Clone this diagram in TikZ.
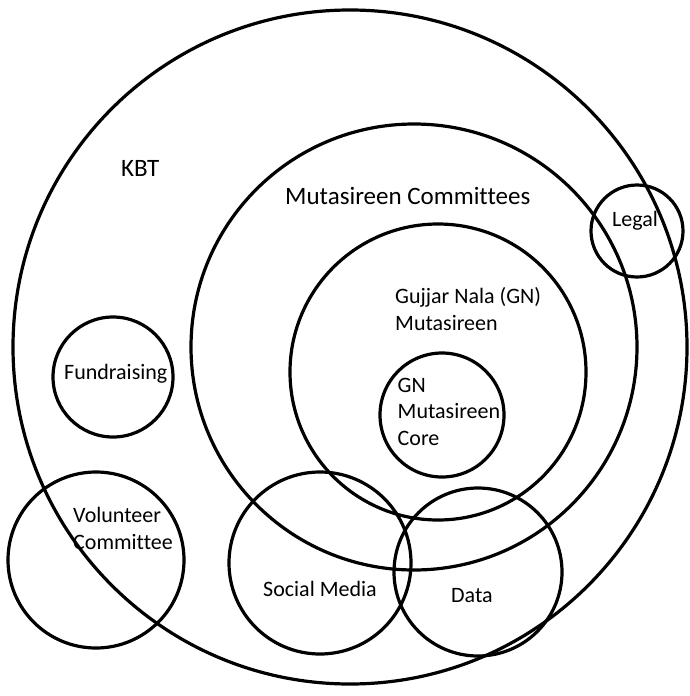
\documentclass[tikz,border=0pt]{standalone}
\usepackage{fontspec}
\setmainfont{Carlito}[Ligatures=NoCommon]

\begin{document}
\begin{tikzpicture}[x=1pt,y=-1pt,
    ring/.style={shape=circle,draw=black,line width=3.2pt,inner sep=0pt},
    lbl/.style={inner sep=0pt,anchor=base west,align=left,font=\fontsize{22}{26.5}\selectfont},
    biglbl/.style={inner sep=0pt,anchor=base west,font=\fontsize{25}{30}\selectfont}]
                \useasboundingbox (0,0) rectangle (689,696);
                % circles
                \node[ring,minimum size=674pt](kbt)at(350, 347){};
                \node[ring,minimum size=446pt](mc)at(414, 347){};
                \node[ring,minimum size=296pt](gn)at(438, 372){};
                \node[ring,minimum size=124pt](core)at(442, 415){};
                \node[ring,minimum size=92pt](legal)at(637, 231){};
                \node[ring,minimum size=120pt](fund)at(113, 377){};
                \node[ring,minimum size=176pt](vol)at(96, 560){};
                \node[ring,minimum size=182pt](social)at(320, 563){};
                \node[ring,minimum size=168pt](data)at(478, 572){};
                % labels (base = last line)
                \node[biglbl](kbtText)at(121, 176){KBT};
                \node[biglbl](mcText)at(285, 204){Mutasireen Committees};
                \node[lbl](legalText)at(612, 226){Legal};
                \node[lbl](gnText)at(395, 330){Gujjar Nala (GN)\\Mutasireen};
                \node[lbl](coreText)at(397.5, 445){GN\\Mutasireen\\Core};
                \node[lbl](fundText)at(64, 379){Fundraising};
                \node[lbl](volText)at(73, 549){Volunteer\\Committee};
                \node[lbl](socialText)at(263, 596){Social Media};
                \node[lbl](dataText)at(451, 602){Data};
\end{tikzpicture}
\end{document}
